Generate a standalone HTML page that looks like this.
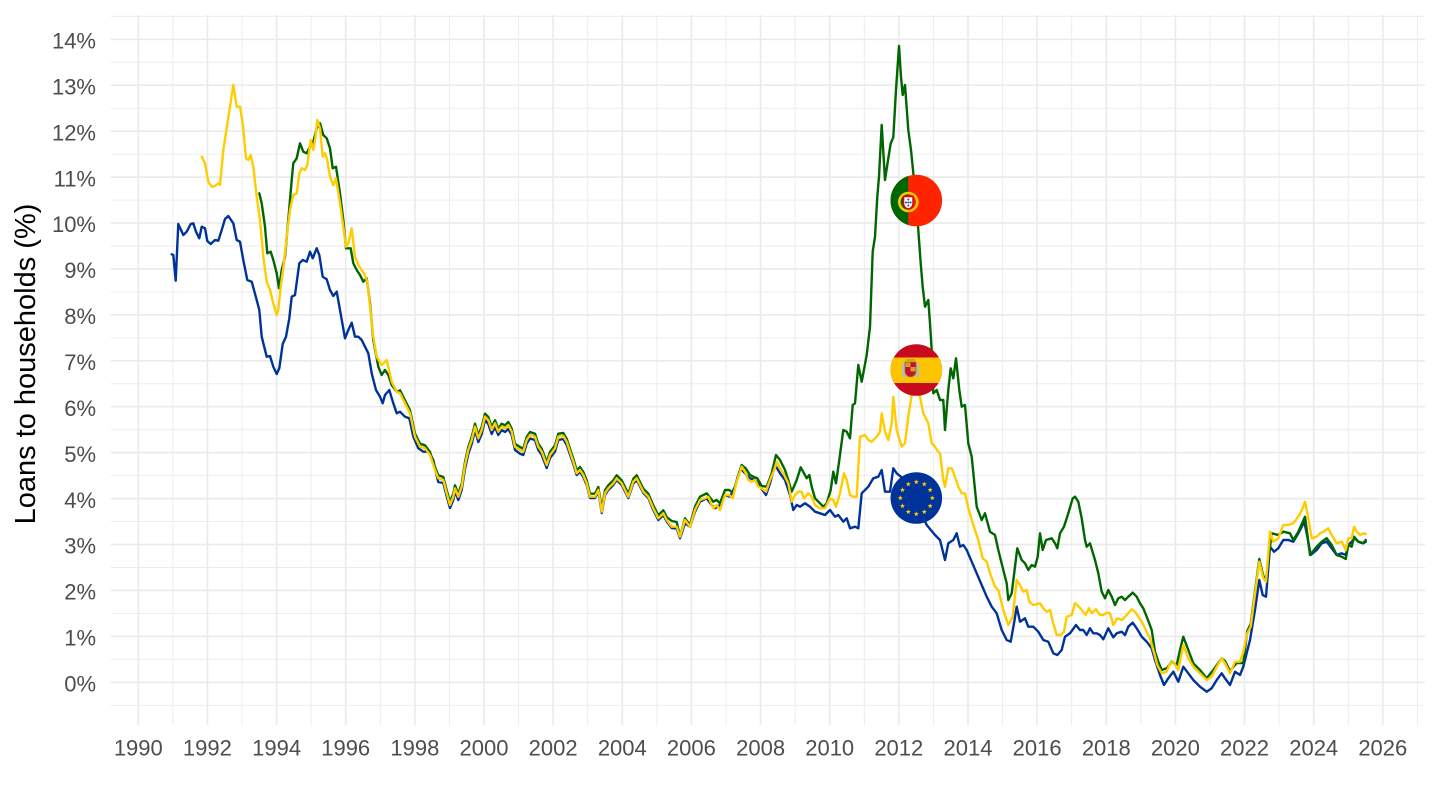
<!DOCTYPE html>
<html><head><meta charset="utf-8"><style>
html,body{margin:0;padding:0;background:#fff;}
svg{display:block;font-family:"Liberation Sans",Arial,sans-serif;}
</style></head><body>
<svg width="1440" height="810" viewBox="0 0 1440 810" xmlns="http://www.w3.org/2000/svg">
<defs>
<clipPath id="cpt"><circle cx="916.3" cy="200.5" r="25.8"/></clipPath>
<clipPath id="ces"><circle cx="916.3" cy="370" r="25.8"/></clipPath>
<polygon id="st" points="0,-2.7 0.647,-0.89 2.568,-0.834 1.046,0.34 1.587,2.184 0,1.1 -1.587,2.184 -1.046,0.34 -2.568,-0.834 -0.647,-0.89" fill="#FFCC00"/>
</defs>
<rect width="1440" height="810" fill="#fff"/>
<g stroke="#ebebeb" stroke-width="0.9">
<line x1="110.7" x2="1425" y1="705.3" y2="705.3"/><line x1="110.7" x2="1425" y1="659.3" y2="659.3"/><line x1="110.7" x2="1425" y1="613.4" y2="613.4"/><line x1="110.7" x2="1425" y1="567.5" y2="567.5"/><line x1="110.7" x2="1425" y1="521.6" y2="521.6"/><line x1="110.7" x2="1425" y1="475.6" y2="475.6"/><line x1="110.7" x2="1425" y1="429.7" y2="429.7"/><line x1="110.7" x2="1425" y1="383.8" y2="383.8"/><line x1="110.7" x2="1425" y1="337.8" y2="337.8"/><line x1="110.7" x2="1425" y1="291.9" y2="291.9"/><line x1="110.7" x2="1425" y1="246" y2="246"/><line x1="110.7" x2="1425" y1="200.1" y2="200.1"/><line x1="110.7" x2="1425" y1="154.1" y2="154.1"/><line x1="110.7" x2="1425" y1="108.2" y2="108.2"/><line x1="110.7" x2="1425" y1="62.3" y2="62.3"/><line x1="110.7" x2="1425" y1="16.3" y2="16.3"/>
<line y1="15" y2="725" x1="172.9" x2="172.9"/><line y1="15" y2="725" x1="242" x2="242"/><line y1="15" y2="725" x1="311.1" x2="311.1"/><line y1="15" y2="725" x1="380.3" x2="380.3"/><line y1="15" y2="725" x1="449.4" x2="449.4"/><line y1="15" y2="725" x1="518.6" x2="518.6"/><line y1="15" y2="725" x1="587.7" x2="587.7"/><line y1="15" y2="725" x1="656.9" x2="656.9"/><line y1="15" y2="725" x1="726" x2="726"/><line y1="15" y2="725" x1="795.1" x2="795.1"/><line y1="15" y2="725" x1="864.3" x2="864.3"/><line y1="15" y2="725" x1="933.4" x2="933.4"/><line y1="15" y2="725" x1="1002.6" x2="1002.6"/><line y1="15" y2="725" x1="1071.7" x2="1071.7"/><line y1="15" y2="725" x1="1140.8" x2="1140.8"/><line y1="15" y2="725" x1="1210" x2="1210"/><line y1="15" y2="725" x1="1279.1" x2="1279.1"/><line y1="15" y2="725" x1="1348.3" x2="1348.3"/><line y1="15" y2="725" x1="1417.4" x2="1417.4"/>
</g>
<g stroke="#ebebeb" stroke-width="1.7">
<line x1="110.7" x2="1425" y1="682.3" y2="682.3"/><line x1="110.7" x2="1425" y1="636.4" y2="636.4"/><line x1="110.7" x2="1425" y1="590.4" y2="590.4"/><line x1="110.7" x2="1425" y1="544.5" y2="544.5"/><line x1="110.7" x2="1425" y1="498.6" y2="498.6"/><line x1="110.7" x2="1425" y1="452.7" y2="452.7"/><line x1="110.7" x2="1425" y1="406.7" y2="406.7"/><line x1="110.7" x2="1425" y1="360.8" y2="360.8"/><line x1="110.7" x2="1425" y1="314.9" y2="314.9"/><line x1="110.7" x2="1425" y1="268.9" y2="268.9"/><line x1="110.7" x2="1425" y1="223" y2="223"/><line x1="110.7" x2="1425" y1="177.1" y2="177.1"/><line x1="110.7" x2="1425" y1="131.2" y2="131.2"/><line x1="110.7" x2="1425" y1="85.2" y2="85.2"/><line x1="110.7" x2="1425" y1="39.3" y2="39.3"/>
<line y1="15" y2="725" x1="138.3" x2="138.3"/><line y1="15" y2="725" x1="207.4" x2="207.4"/><line y1="15" y2="725" x1="276.6" x2="276.6"/><line y1="15" y2="725" x1="345.7" x2="345.7"/><line y1="15" y2="725" x1="414.9" x2="414.9"/><line y1="15" y2="725" x1="484" x2="484"/><line y1="15" y2="725" x1="553.1" x2="553.1"/><line y1="15" y2="725" x1="622.3" x2="622.3"/><line y1="15" y2="725" x1="691.4" x2="691.4"/><line y1="15" y2="725" x1="760.6" x2="760.6"/><line y1="15" y2="725" x1="829.7" x2="829.7"/><line y1="15" y2="725" x1="898.8" x2="898.8"/><line y1="15" y2="725" x1="968" x2="968"/><line y1="15" y2="725" x1="1037.1" x2="1037.1"/><line y1="15" y2="725" x1="1106.3" x2="1106.3"/><line y1="15" y2="725" x1="1175.4" x2="1175.4"/><line y1="15" y2="725" x1="1244.5" x2="1244.5"/><line y1="15" y2="725" x1="1313.7" x2="1313.7"/><line y1="15" y2="725" x1="1382.8" x2="1382.8"/>
</g>
<g font-size="22" fill="#4d4d4d" text-anchor="end">
<text x="96" y="691.5">0%</text><text x="96" y="645.6">1%</text><text x="96" y="599.6">2%</text><text x="96" y="553.7">3%</text><text x="96" y="507.8">4%</text><text x="96" y="461.9">5%</text><text x="96" y="415.9">6%</text><text x="96" y="370">7%</text><text x="96" y="324.1">8%</text><text x="96" y="278.1">9%</text><text x="96" y="232.2">10%</text><text x="96" y="186.3">11%</text><text x="96" y="140.4">12%</text><text x="96" y="94.4">13%</text><text x="96" y="48.5">14%</text>
</g>
<g font-size="22" fill="#4d4d4d" text-anchor="middle">
<text x="138.3" y="755.5">1990</text><text x="207.4" y="755.5">1992</text><text x="276.6" y="755.5">1994</text><text x="345.7" y="755.5">1996</text><text x="414.9" y="755.5">1998</text><text x="484" y="755.5">2000</text><text x="553.1" y="755.5">2002</text><text x="622.3" y="755.5">2004</text><text x="691.4" y="755.5">2006</text><text x="760.6" y="755.5">2008</text><text x="829.7" y="755.5">2010</text><text x="898.8" y="755.5">2012</text><text x="968" y="755.5">2014</text><text x="1037.1" y="755.5">2016</text><text x="1106.3" y="755.5">2018</text><text x="1175.4" y="755.5">2020</text><text x="1244.5" y="755.5">2022</text><text x="1313.7" y="755.5">2024</text><text x="1382.8" y="755.5">2026</text>
</g>
<text transform="translate(35,364) rotate(-90)" font-size="29" fill="#000" text-anchor="middle">Loans to households (%)</text>
<g fill="none" stroke-width="2.4" stroke-linejoin="round" stroke-linecap="round">
<polyline stroke="#003399" points="171.7,254.3 173.3,255 175.7,280.7 178.3,224 183.3,235 186.7,231.7 190.7,224 193.3,223.3 196,231.7 199.3,238.3 201.7,226.7 205,228.3 207.3,241 210.7,244 215,240 218.3,240.7 221.7,230 225,219 228.3,216 233.3,223.3 236.7,240 240,241.7 243.3,260 247.3,280 251.7,281.7 256.7,300 259.3,310 261.7,336.7 266.7,356.7 270,356 273.3,366.7 276.7,374 279.3,368.3 282.7,344 286,336.7 289.3,318.3 291.7,296.7 295,295 299.3,263.3 302.7,260 306.7,261.7 310,251.7 312.7,258.3 316.7,248.3 319.3,255 322.7,276.7 326.7,279.3 330,290 333.3,296 336.7,291.7 340,310 345,338.3 348.3,330 351.7,322.7 355,336.7 358.3,336.7 361.7,340 365,346.7 368.3,353.3 371.7,373.3 376,390 380,396.7 382.7,403.3 385,395 389.3,390 393.3,403.3 396.7,413.3 400,411.7 405,416.7 409.3,418.3 413.3,436.7 418.3,448.3 423.3,451.7 428.3,451.7 433.3,460 436,473 438.3,482 443.3,483 446.7,496.3 450,508 453.3,500 455,491.3 458.3,500 461.7,490 465,469 468.3,454 471.7,444 475,430 478.3,442 481.7,434 485,420 488.3,424 491.7,434 495,427 498.3,435 501.7,430 505,432 508.3,429 511.7,435 515,450 520,453.7 523.3,455 526.7,443.5 530,438.5 535,440 538.3,450 541.7,455 546.7,468 550,458 555,451.5 558.3,440 563.3,439 566.7,445 570,454.5 573.3,464 576.7,475 580,472 583.3,477 586.7,485 590,498 595,498 598.3,491.5 601.7,513 605,495 608.3,490 613.3,485 616.7,480 621.7,485 625,491.5 628.3,498 633.3,483.5 636.7,480 640,486.5 643.3,493 648.3,498 653.3,510 658.3,520 663.3,515 666.7,521.5 671.7,528 676.7,528.5 680,538.3 685,523.3 690,526.7 695,511.7 700,501.7 706.7,498.3 711.7,505 715,508.3 720,505 725,495 730,496.7 735,486.7 740.7,468.3 745,473.3 750,478.3 755,480 760,486.7 766,495 770,483.3 775,465 780,473.3 785,480 790,495 793.3,510 796.7,505 800,506.7 805,503.3 810,506.7 815,511.7 820,513.3 825,515 830,510 835,516.7 838.3,515 843.3,521.7 846.7,518.3 850,528.3 855,526.7 858.3,528.3 861.7,493.3 868.3,486.7 873.3,478.3 878.3,476.7 881.7,470 885,491.7 890,491.7 893.3,468.3 896.7,473.3 905,480 915,500 926.7,525 935,535 940,540 945,560 948.3,543.3 953.3,540 956.7,533.3 960,546.7 963.3,545 966.7,550 971.7,561.7 976.7,573.3 981.7,585 986.7,596.7 991.7,606.7 996.7,613.3 1001.7,630 1006.7,640 1010.7,641.7 1014,623.3 1016.7,606.7 1020,621.7 1025,618.3 1028.3,626.7 1033.3,626.7 1038.3,631.7 1043.3,640 1048.3,641.7 1053.3,653.3 1057.3,655 1061.7,650 1065,636.7 1070,633.3 1076,625 1080,630 1083.3,630 1086.7,635 1090,628.3 1093.3,633.3 1096.7,633.3 1100,635 1103.3,639.3 1108.3,628.3 1113.3,637.3 1116.7,633.3 1121.7,631.7 1125,635 1128.3,626.7 1132.7,622.7 1136.7,628.3 1141.7,636.7 1146.7,641.7 1151.7,648.3 1155,660 1160,675 1164,685 1168.3,678.3 1173.3,671.7 1178.3,681.7 1183.3,666.7 1188.3,673.3 1193.3,680 1200,686.7 1206.7,691.7 1211.7,688.3 1216.7,680 1221.7,673.3 1225,678.3 1230,685 1235,671.7 1240,675 1243.3,666.7 1250,640 1255,610 1259.3,580 1262.7,595 1266,596.7 1270,546.7 1274,551.7 1278.3,548.3 1283.3,540 1288.3,540 1293.3,541.7 1298.3,533.3 1304.3,521.7 1306.7,533.3 1310.7,555 1316.7,550 1321.7,543.3 1326.7,541.7 1331.7,548.3 1336.7,555 1341.7,553.3 1345.7,555 1348.3,545 1351.7,541.7 1355,538.3 1358.3,541.7 1363.3,543.3 1365.7,541.7"/>
<polyline stroke="#006600" points="259.3,193.3 261.7,203.3 265,226.7 267.3,253.3 270.7,251.7 273.3,260 276.7,273.3 279,288.3 281.7,270 285,256.7 288.3,220 291.7,180 293.3,163.3 296.7,158.3 300,143.3 303.3,151.7 306.7,153.3 310,146.7 313.3,141.7 316.7,128.3 320,123.3 323.3,135 326.7,138.3 330,148.3 332.7,168.3 336,166.7 340,193.3 343.3,220 346,248.3 350.7,248.3 353.3,263.3 356.7,270 360,275 363.3,281.7 366.7,278.3 370,303.3 373.3,340 378.3,366.7 381.7,375 385,370 388.3,375 391.7,385 396.7,391.7 400,390.3 405,400.3 410,410.3 415,433.7 420,443.7 425,445.3 430,452 435,467 438.3,475.3 443.3,477 446.7,490.3 450,502 453.3,493.7 455,485.3 458.3,493.7 461.7,483.7 465,462 468.3,447 471.7,437 475,423.7 478.3,435.3 481.7,427 485,413.7 488.3,417 491.7,427 495,420.3 498.3,428.7 501.7,423.7 505,425.3 508.3,422 511.7,428.7 515,443.7 520,447 523.3,448.7 526.7,437 530,432 535,433.7 538.3,443.7 541.7,448.7 546.7,462 550,452 555,445.3 558.3,433.7 563.3,433 566.7,438.7 570,448.7 573.3,458.7 576.7,470.3 580,467 583.3,472 586.7,480.3 590,493.7 595,493.7 598.3,487 601.7,508.7 605,490.3 608.3,485.3 613.3,480.3 616.7,475.3 621.7,480.3 625,487 628.3,493.7 633.3,478.7 636.7,475.3 640,482 643.3,488.7 648.3,493.7 653.3,505.3 658.3,515.3 663.3,510.3 666.7,517 671.7,521 676.7,522 680,536.7 685,518.3 690,525 695,506.7 700,496.7 706.7,493.3 713.3,501.7 716.7,500 720,503.3 725,490 729.3,490 733.3,493.3 737.3,478.3 741.7,465 745.7,468.3 750,475 753.3,476.7 757.3,478.3 761.7,486 766.7,486.7 771.7,473.3 776,455 780,460 785,470 788.3,480 791.7,491.7 796.7,480 800.7,467.3 804,473.3 806.7,478.3 809.3,475 811.7,486.7 815,498.3 820,503.3 823.3,506.7 826.7,503.3 830.7,490 833.3,471.7 836,483.3 839.3,460 843.3,430 846.7,431.7 850,438.3 852.7,405 855,403.3 858.3,365 861.7,381.7 866.7,355 870,326.7 872.7,251.7 875,236.7 877.3,196.7 879,176.7 881.7,125 885,180 888.3,158.3 890.7,143.3 893.3,137.3 896,90 899,46 901,76.7 902.7,95 905,85 908.3,130 911,150 915,190 918.3,230 920.7,263.3 922.7,286.7 925,306.7 928.3,300 930,323.3 931.7,350 933.3,393.3 936.7,390 940,400 943.3,400 945,430 948.3,390 950.7,368.3 953.3,378.3 956,358.3 959.3,390 961.7,406.7 965,405 968.3,443.3 971.7,456.7 976.7,506.7 981.7,520 985,513.3 990,531.7 995,535 998.3,550 1003.3,570 1006.7,583.3 1008.3,600 1011.7,593.3 1015,566.7 1017.3,548.3 1021.7,560 1025,563.3 1028.3,570 1031.7,565 1035,566.7 1037.7,556.7 1040,533.3 1042.7,550 1046,540 1051.7,538.3 1055,543.3 1057.3,548.3 1060,533.3 1064,526.7 1068.3,513.3 1072.7,498.3 1075,496.7 1078.3,501.7 1081.7,518.3 1085,540 1086.7,546.7 1090,543.3 1095,560 1098.3,573.3 1101.7,591.7 1105,598.3 1108.3,590 1111.7,596.7 1115,605 1118.3,598.3 1121.7,596.7 1125,600 1128.3,596.7 1132.7,592.7 1136.7,596.7 1140,603.3 1143.3,608.3 1146.7,616.7 1151.7,630 1155,651.7 1158.3,661.7 1161.7,670 1166.7,668.3 1171.7,661.7 1176.7,665 1180,650 1183.3,636.7 1188.3,650 1193.3,663.3 1200,670 1206.7,678.3 1213.3,670 1221.7,658.3 1225,661 1230,671 1236.7,663 1243.3,663 1247.3,631 1250.7,624 1255,591 1259.3,559 1263.3,576 1266,579 1271.7,533.3 1278.3,535 1283.3,531.7 1290,533.3 1293.3,540 1298.3,531.7 1305,516.7 1310,555 1316.7,546.7 1321.7,541.7 1326.7,538.3 1331.7,545 1336.7,555 1341.7,556.7 1345.7,559 1348.3,545 1351.7,546.7 1354,536.7 1358.3,541.7 1363.3,543.3 1365.7,540"/>
<polyline stroke="#FFCC00" points="201.7,156.7 205,163.3 208.3,181.7 211.7,186.7 215,186 218.3,183.3 220,185 223.3,150 226.7,128.3 230,106.7 233.3,85 236.7,106.7 240,106.7 242.7,123.3 246,158.3 248.3,160 250.7,155 253.3,166.7 256.7,196.7 260,220 263.3,256.7 266.7,281.7 270,290 273.3,303.3 276.7,315 278.3,310 280.7,286.7 283.3,268.3 286.7,236.7 290,210 293.3,195 296.7,193.3 299.3,173.3 301.7,168.3 305,170 307.3,165 310.7,140 313.3,150 315.3,138.3 317.3,120 320,128.3 322.7,156.7 325,153.3 327.3,160 330,176.7 333.3,185 336,178.3 340,203.3 343.3,226.7 346,246.7 348.3,243.3 351.7,228.3 355,256.7 358.3,265 361.7,270 365,275 367.3,281.7 370,306.7 373.3,336.7 376.7,356.7 381.7,365 386.7,360 391.7,381.7 396.7,391.7 400,393.3 405,403.3 410,413.3 415,436.7 420,446.7 425,448.3 430,455 435,470 438.3,478.3 443.3,480 446.7,493.3 450,505 453.3,496.7 455,488.3 458.3,496.7 461.7,486.7 465,465 468.3,450 471.7,440 475,426.7 478.3,438.3 481.7,430 485,416.7 488.3,420 491.7,430 495,423.3 498.3,431.7 501.7,426.7 505,428.3 508.3,425 511.7,431.7 515,446.7 520,450 523.3,451.7 526.7,440 530,435 535,436.7 538.3,446.7 541.7,451.7 546.7,465 550,455 555,448.3 558.3,436.7 563.3,436 566.7,441.7 570,451.7 573.3,461.7 576.7,473.3 580,470 583.3,475 586.7,483.3 590,496.7 595,496.7 598.3,490 601.7,511.7 605,493.3 608.3,488.3 613.3,483.3 616.7,478.3 621.7,483.3 625,490 628.3,496.7 633.3,481.7 636.7,478.3 640,485 643.3,491.7 648.3,496.7 653.3,508.3 658.3,518.3 663.3,513.3 666.7,520 671.7,526.7 676.7,526.7 680,536.7 685,520 690,526.7 695,510 700,500 705,498.3 708.3,496.7 713.3,508.3 716.7,505 720,510 725,495 729.3,495 732.7,498.3 736.7,481.7 741.7,466.7 745,471.7 748.3,480 751.7,481.7 755,480 758.3,486.7 761.7,488.3 766,491.7 770,480 774.3,470 776.7,461.7 780,468.3 783.3,473.3 788.3,483.3 791.7,501.7 795,495 798.3,491.7 801.7,491.7 804,498.3 808.3,493.3 811.7,496.7 815,505 820,508.3 825,508.3 830,498.3 833.3,500 836,506.7 840,493.3 844,473.3 846.7,480 850,495 853.3,496.7 856.7,496.7 860,436.7 865,435 868.3,440 871.7,441.7 876.7,436.7 880,431.7 881.7,413.3 885,431.7 888.3,440 891.7,423.3 893.3,397 896.7,430 901.7,446.7 905,443.3 908.3,416.7 911.7,395 916,380 920,396.7 923.3,413.3 928.3,423.3 931.7,443.3 935,446.7 938.3,452 940,453.3 943.3,480 945,486.7 948.3,468.3 951.7,468.3 955,476.7 958.3,486.7 961.7,493.3 965,493.3 968.3,508.3 973.3,525 978.3,540 982.7,558.3 986.7,561.7 990,573.3 995,586.7 998.3,590 1003.3,610 1008.3,625 1012.7,616.7 1016.7,580 1020,585 1023.3,591.7 1026.7,590 1029.3,601.7 1033.3,605 1040,603.3 1043.3,608.3 1046.7,611.7 1050,610 1053.3,623.3 1056.7,635 1060.7,635 1064,631.7 1066.7,616.7 1071.7,615 1075,603.3 1077.3,605 1081.7,610 1085.7,615 1089,608.3 1091.7,613.3 1096,609.3 1100,615 1103.3,615 1106.7,612.7 1110,613.3 1113.3,625 1117.3,618.3 1121.7,620 1126.7,615 1131.7,609.3 1135,611.7 1138.3,616.7 1141.7,621.7 1146.7,631.7 1150,638.3 1153.3,650 1157.3,665 1161.7,673.3 1166.7,671.7 1170,663.3 1173.3,661.7 1178.3,670 1183.3,645 1188.3,658.3 1193.3,666.7 1200,673.3 1206.7,680 1211.7,676.7 1216.7,666.7 1221.7,658.3 1225,663.3 1230,673.3 1235,661.7 1240,661.7 1243.3,651.7 1247.3,633.3 1250.7,626.7 1255,593.3 1259.3,561.7 1263.3,578.3 1266,581.7 1270,531.7 1273.3,541.7 1278.3,538.3 1283.3,525 1288.3,525 1293.3,523.3 1298.3,516.7 1302.7,508.3 1305,501.7 1307.7,515 1311.7,538.3 1316.7,536.7 1320,533.3 1323.3,531.7 1328.3,528.3 1331.7,535 1336.7,543.3 1341.7,541.7 1345.7,550 1348.3,538.3 1351.7,538.3 1354,526.7 1356.7,531.7 1360,535 1363.3,533.3 1365.7,534"/>
</g>
<!-- Portugal flag -->
<g clip-path="url(#cpt)">
<rect x="888" y="172" width="60" height="60" fill="#FF2400"/>
<rect x="888" y="172" width="20.3" height="60" fill="#006600"/>
<circle cx="908.3" cy="202" r="9" fill="none" stroke="#FFCC00" stroke-width="2.6"/>
<path d="M903.5,196.5 h9.6 v7 q0,4.5 -4.8,5.5 q-4.8,-1 -4.8,-5.5z" fill="#fff" stroke="#E00000" stroke-width="1.6"/>
<circle cx="908.3" cy="199.5" r="1" fill="#1f3fa0"/><circle cx="906" cy="202.5" r="1" fill="#1f3fa0"/><circle cx="910.6" cy="202.5" r="1" fill="#1f3fa0"/><circle cx="908.3" cy="202.5" r="1" fill="#1f3fa0"/><circle cx="908.3" cy="205.5" r="1" fill="#1f3fa0"/>
</g>
<!-- Spain flag -->
<g clip-path="url(#ces)">
<rect x="888" y="342" width="60" height="60" fill="#C60B1E"/>
<rect x="888" y="357.5" width="60" height="25.5" fill="#FFC400"/>
<rect x="902" y="363" width="4" height="14" fill="#bbb"/>
<rect x="915" y="363" width="4" height="14" fill="#bbb"/>
<path d="M905,362 h11 v9 q0,5 -5.5,6 q-5.5,-1 -5.5,-6z" fill="#C8102E" stroke="#a07020" stroke-width="0.8"/>
<rect x="905.5" y="362.5" width="5" height="4.5" fill="#d4a020"/>
<rect x="910.5" y="367" width="5" height="4.5" fill="#d4a020"/>
<rect x="906" y="359" width="9" height="3" fill="#d4a020"/>
</g>
<!-- EU flag -->
<circle cx="916.3" cy="498" r="25.8" fill="#003399"/>
<g transform="translate(916.3,498)">
<use href="#st" x="0" y="-16"/><use href="#st" x="8" y="-13.86"/><use href="#st" x="13.86" y="-8"/><use href="#st" x="16" y="0"/><use href="#st" x="13.86" y="8"/><use href="#st" x="8" y="13.86"/><use href="#st" x="0" y="16"/><use href="#st" x="-8" y="13.86"/><use href="#st" x="-13.86" y="8"/><use href="#st" x="-16" y="0"/><use href="#st" x="-13.86" y="-8"/><use href="#st" x="-8" y="-13.86"/>
</g>
</svg>
</body></html>
